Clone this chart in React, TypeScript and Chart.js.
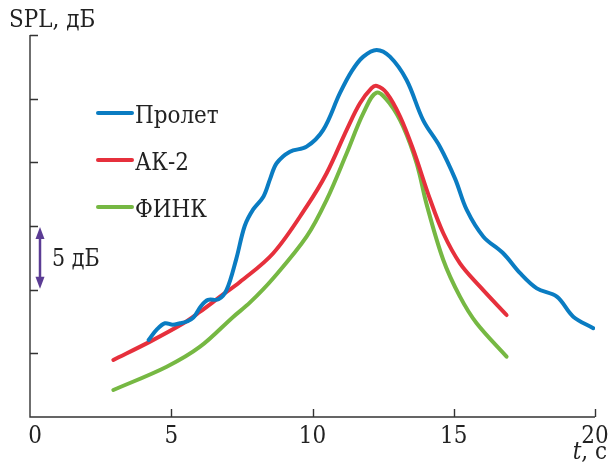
import React, { useEffect, useRef } from "react";
import { Chart, registerables } from "chart.js";

Chart.register(...registerables);

// ---- data ----
const proletT = [4.2, 4.5, 4.78, 5.05, 5.31, 5.55, 5.78, 6.05, 6.3, 6.67, 6.96, 7.3, 7.6, 7.9, 8.26, 8.5, 8.73, 9.2, 9.79, 10.38, 10.97, 11.4, 11.8, 12.27, 12.74, 13.33, 13.92, 14.51, 15.05, 15.46, 16.05, 16.75, 17.35, 17.94, 18.65, 19.23, 19.94];
const proletV = [6.05, 6.9, 7.36, 7.25, 7.36, 7.5, 7.8, 8.7, 9.2, 9.24, 9.98, 12.4, 15.0, 16.3, 17.3, 18.7, 19.93, 20.84, 21.23, 22.55, 25.43, 27.2, 28.3, 28.83, 28.3, 26.47, 23.3, 21.23, 18.7, 16.26, 14.16, 12.86, 11.29, 10.1, 9.45, 7.88, 6.97];

const ak2T = [2.95, 4.25, 5.43, 6.02, 6.73, 7.43, 8.61, 9.79, 10.5, 11.21, 11.68, 12.09, 12.27, 12.63, 13.1, 13.57, 14.16, 14.63, 15.22, 15.93, 16.87];
const ak2V = [4.48, 5.92, 7.36, 8.27, 9.45, 10.6, 12.86, 16.52, 19.14, 22.55, 24.64, 25.82, 26.0, 25.43, 23.6, 20.97, 17.1, 14.43, 12.07, 10.24, 8.01];

const finkT = [2.95, 4.84, 6.02, 7.2, 7.79, 8.61, 9.79, 10.5, 11.21, 11.8, 12.27, 12.74, 13.21, 13.69, 14.04, 14.63, 15.22, 15.81, 16.87];
const finkV = [2.12, 3.95, 5.52, 7.88, 9.0, 10.9, 14.16, 17.05, 20.71, 23.86, 25.48, 24.6, 22.8, 19.9, 16.7, 12.33, 9.45, 7.36, 4.74];

const xTicks = [0, 5, 10, 15, 20];
const yTicks = [5, 10, 15, 20, 25, 30];
const seriesNames = ["Пролет", "АК-2", "ФИНК"];
const seriesColors = ["#0a7cc2", "#e6303c", "#76b843"];
const yTitle = "SPL, дБ";
const scaleLabel = "5 дБ";
const scaleFrom = 10;
const scaleTo = 15;

const zip = (t: number[], v: number[]) => t.map((x, i) => ({ x, y: v[i] }));

const SERIF = "'DejaVu Serif', serif";
const SX = 0.86; // horizontal condensing of the serif face

function txt(ctx: CanvasRenderingContext2D, s: string, x: number, y: number, align: string, font: string) {
  ctx.save();
  ctx.font = font;
  ctx.textAlign = "left";
  ctx.textBaseline = "alphabetic";
  const w = ctx.measureText(s).width * SX;
  let left = x;
  if (align === "center") left = x - w / 2;
  else if (align === "right") left = x - w;
  ctx.translate(left, y);
  ctx.scale(SX, 1);
  ctx.fillText(s, 0, 0);
  ctx.restore();
  return w;
}

const decorPlugin = {
  id: "decor",
  afterDraw(chart: any) {
    const ctx = chart.ctx;
    const xs = chart.scales.x;
    const ys = chart.scales.y;
    const x0 = xs.getPixelForValue(0);
    const x20 = xs.getPixelForValue(20);
    const y0 = ys.getPixelForValue(0);
    const y30 = ys.getPixelForValue(30);
    ctx.save();
    ctx.strokeStyle = "#333";
    ctx.lineWidth = 1.4;
    ctx.beginPath();
    ctx.moveTo(x0, y30);
    ctx.lineTo(x0, y0);
    ctx.lineTo(x20, y0);
    ctx.stroke();
    ctx.beginPath();
    for (const v of yTicks) {
      const py = Math.round(ys.getPixelForValue(v)) + 0.5;
      ctx.moveTo(x0, py);
      ctx.lineTo(x0 + 8, py);
    }
    for (const v of xTicks) {
      if (v === 0) continue;
      const px = Math.round(xs.getPixelForValue(v)) + 0.5;
      ctx.moveTo(px, y0);
      ctx.lineTo(px, y0 - 8);
    }
    ctx.stroke();

    ctx.fillStyle = "#222";
    const F = `25px ${SERIF}`;
    for (const v of xTicks) {
      const px = xs.getPixelForValue(v) + (v === 0 ? 5 : 0);
      txt(ctx, String(v), px, y0 + 26, "center", F);
    }
    txt(ctx, yTitle, 9, 27, "left", F);
    const wRest = txt(ctx, ", с", 607, y0 + 42, "right", F);
    txt(ctx, "t", 607 - wRest, y0 + 42, "right", `italic 25px ${SERIF}`);

    const legX = 98;
    const legY = [113, 160, 207];
    seriesNames.forEach((name, i) => {
      ctx.strokeStyle = seriesColors[i];
      ctx.lineWidth = 4;
      ctx.lineCap = "round";
      ctx.beginPath();
      ctx.moveTo(legX, legY[i]);
      ctx.lineTo(legX + 34, legY[i]);
      ctx.stroke();
      ctx.fillStyle = "#222";
      txt(ctx, name, legX + 37, legY[i] + 10, "left", F);
    });

    const ay1 = ys.getPixelForValue(scaleTo) + 1;
    const ay2 = ys.getPixelForValue(scaleFrom) - 1;
    const ax = x0 + 10;
    ctx.strokeStyle = "#5b3c94";
    ctx.fillStyle = "#5b3c94";
    ctx.lineWidth = 2.5;
    ctx.lineCap = "butt";
    ctx.beginPath();
    ctx.moveTo(ax, ay1 + 8);
    ctx.lineTo(ax, ay2 - 8);
    ctx.stroke();
    ctx.beginPath();
    ctx.moveTo(ax, ay1);
    ctx.lineTo(ax - 4.5, ay1 + 12);
    ctx.lineTo(ax + 4.5, ay1 + 12);
    ctx.closePath();
    ctx.fill();
    ctx.beginPath();
    ctx.moveTo(ax, ay2);
    ctx.lineTo(ax - 4.5, ay2 - 12);
    ctx.lineTo(ax + 4.5, ay2 - 12);
    ctx.closePath();
    ctx.fill();
    ctx.fillStyle = "#222";
    txt(ctx, scaleLabel, 52, (ay1 + ay2) / 2 + 8, "left", `24px ${SERIF}`);
    ctx.restore();
  },
};

export default function App() {
  const ref = useRef<HTMLCanvasElement | null>(null);
  useEffect(() => {
    document.body.style.margin = "0";
    if (!ref.current) return;
    const mk = (t: number[], v: number[], i: number) => ({
      label: seriesNames[i],
      data: zip(t, v),
      borderColor: seriesColors[i],
      backgroundColor: seriesColors[i],
      borderWidth: 4,
      pointRadius: 0,
      fill: false,
      tension: 0.35,
      borderCapStyle: "round" as const,
      borderJoinStyle: "round" as const,
    });
    const chart = new Chart(ref.current, {
      type: "line",
      data: {
        datasets: [mk(proletT, proletV, 0), mk(ak2T, ak2V, 1), mk(finkT, finkV, 2)],
      },
      options: {
        animation: false,
        responsive: false,
        devicePixelRatio: 1,
        layout: { padding: { left: 30, top: 35, right: 15, bottom: 56 } },
        plugins: { legend: { display: false }, tooltip: { enabled: false } },
        scales: {
          x: { type: "linear", min: 0, max: 20, display: false },
          y: { type: "linear", min: 0, max: 30, display: false },
        },
      },
      plugins: [decorPlugin],
    });
    return () => chart.destroy();
  }, []);
  return (
    <div style={{ position: "absolute", left: 0, top: 0, width: 610, height: 473 }}>
      <canvas ref={ref} width={610} height={473} />
    </div>
  );
}
